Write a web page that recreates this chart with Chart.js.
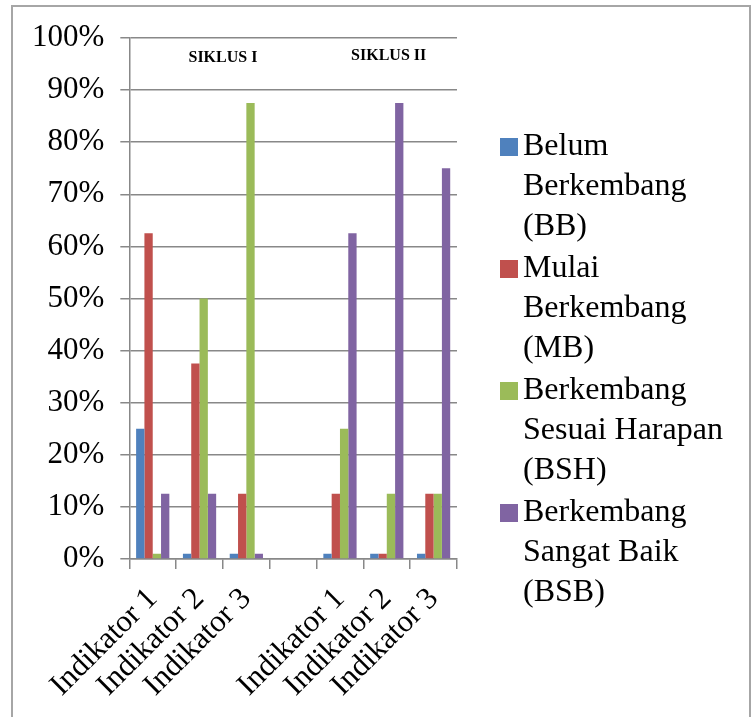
<!DOCTYPE html>
<html>
<head>
<meta charset="utf-8">
<script src="https://cdn.jsdelivr.net/npm/chart.js@4.4.1/dist/chart.umd.min.js"></script>
<style>
  body { margin: 0; background: #fff; }
  #frame { position: absolute; left: 11px; top: 5px; width: 736px; height: 730px; border: 2px solid #a6a6a6; }
  #chart { position: absolute; left: 0; top: 0; }
  #legend { position: absolute; left: 500px; top: 124px; font-family: "Times New Roman", "Liberation Serif", "DejaVu Serif", serif; font-size: 32px; line-height: 40px; color: #000; }
  #legend .item { position: relative; padding-left: 23px; margin-bottom: 2px; }
  #legend .box { position: absolute; left: 0; top: 14px; width: 18px; height: 18px; }
</style>
</head>
<body>
<div id="frame"></div>
<canvas id="chart" width="751" height="717"></canvas>
<div id="legend"></div>
<script>
var kategori = ['Indikator 1', 'Indikator 2', 'Indikator 3', '', 'Indikator 1', 'Indikator 2', 'Indikator 3'];
var nilaiBB = [25, 1, 1, null, 1, 1, 1];
var nilaiMB = [62.5, 37.5, 12.5, null, 12.5, 1, 12.5];
var nilaiBSH = [1, 50, 87.5, null, 25, 12.5, 12.5];
var nilaiBSB = [12.5, 12.5, 1, null, 62.5, 87.5, 75];
var namaSeri = [
    ['Belum', 'Berkembang', '(BB)'],
    ['Mulai', 'Berkembang', '(MB)'],
    ['Berkembang', 'Sesuai Harapan', '(BSH)'],
    ['Berkembang', 'Sangat Baik', '(BSB)']
];
var warna = ['#4F81BD', '#C0504D', '#9BBB59', '#8064A2'];
var siklus = ['SIKLUS I', 'SIKLUS II'];
var hurufSerif = '"Times New Roman", "Liberation Serif", "DejaVu Serif", serif';

var semuaNilai = [nilaiBB, nilaiMB, nilaiBSH, nilaiBSB];
var datasets = [];
for (var i = 0; i < semuaNilai.length; i++) {
    datasets.push({
        label: namaSeri[i].join(' '),
        data: semuaNilai[i],
        backgroundColor: warna[i],
        borderWidth: 0,
        categoryPercentage: 0.71,
        barPercentage: 1
    });
}

// judul siklus di atas grafik
var siklusPlugin = {
    id: 'siklus',
    afterDraw: function(chart) {
        var c = chart.ctx;
        var x = chart.scales.x;
        var top = chart.chartArea.top;
        c.save();
        c.font = 'bold 16px ' + hurufSerif;
        c.fillStyle = '#000';
        c.textAlign = 'center';
        c.textBaseline = 'middle';
        c.fillText(siklus[0], x.getPixelForValue(1.5), top + 20);
        c.fillText(siklus[1], x.getPixelForValue(5.04), top + 18);
        c.restore();
    }
};

var ctx = document.getElementById('chart').getContext('2d');
var chart = new Chart(ctx, {
    type: 'bar',
    data: {
        labels: kategori,
        datasets: datasets
    },
    options: {
        responsive: false,
        animation: false,
        layout: {
            padding: { left: 16, right: 294, top: 38, bottom: 1 }
        },
        plugins: {
            legend: { display: false },
            tooltip: { enabled: false }
        },
        scales: {
            x: {
                grid: { display: true, drawOnChartArea: false, offset: true, tickLength: 10, color: '#888', lineWidth: 1.5 },
                border: { color: '#888', width: 1.5 },
                afterFit: function(s) { s.paddingLeft = 0; s.paddingRight = 0; },
                ticks: {
                    autoSkip: false,
                    minRotation: 45,
                    maxRotation: 45,
                    padding: 12,
                    color: '#000',
                    font: { family: hurufSerif, size: 31 }
                }
            },
            y: {
                min: 0,
                max: 100,
                grid: { color: '#888', lineWidth: 1.5, tickLength: 9 },
                border: { color: '#888', width: 1.5 },
                ticks: {
                    stepSize: 10,
                    padding: 16,
                    color: '#000',
                    font: { family: hurufSerif, size: 31 },
                    callback: function(v) { return v + '%'; }
                }
            }
        }
    },
    plugins: [siklusPlugin]
});

var legend = document.getElementById('legend');
for (var j = 0; j < namaSeri.length; j++) {
    var item = document.createElement('div');
    item.className = 'item';
    var box = document.createElement('span');
    box.className = 'box';
    box.style.background = warna[j];
    item.appendChild(box);
    item.innerHTML += namaSeri[j].join('<br>');
    legend.appendChild(item);
}
</script>
</body>
</html>
